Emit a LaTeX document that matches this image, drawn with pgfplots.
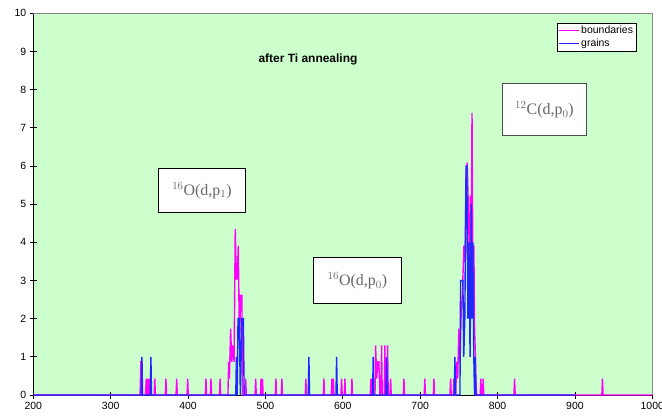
\documentclass[border=0pt]{standalone}
\usepackage{fontspec}
\setmainfont{Liberation Sans}
\newfontfamily\serifA{Liberation Serif}
\usepackage{pgfplots}
\pgfplotsset{compat=1.18}
\definecolor{bgGreen}{RGB}{204,255,204}
\definecolor{bordergray}{RGB}{136,136,136}
\definecolor{annot}{RGB}{102,102,102}
\definecolor{magc}{RGB}{255,0,255}
\definecolor{bluc}{RGB}{30,40,255}
\begin{document}
\begin{tikzpicture}
\path[use as bounding box] (-33.3bp,-22bp) rectangle (628.7bp,395bp);
\begin{axis}[
  scale only axis, width=619bp, height=381.7bp,
  xmin=200, xmax=1000, ymin=0, ymax=10,
  xtick={200,300,...,1000}, ytick={0,1,...,10},
  axis lines*=left,
  axis line style={-,black,line width=0.8bp},
  tick align=center, major tick length=7bp,
  tick style={black,line width=0.8bp},
  axis background/.style={fill=bgGreen},
  ticklabel style={font=\fontsize{10.5}{12}\selectfont},
  /pgf/number format/assume math mode=true,
  /pgf/number format/1000 sep={},
  legend style={at={(0.9748,0.9754)}, anchor=north east,
    fill=white, font=\fontsize{10.5}{12}\selectfont, inner sep=1.5bp, row sep=-0.5bp},
  legend cell align=left,
  legend image code/.code={\draw[mark repeat=2,mark phase=2,#1,line width=1bp] plot coordinates {(0bp,0bp) (10bp,0bp) (20bp,0bp)};},
  clip=false,
]
\addplot[color=magc, line width=1.4bp] coordinates {
(200,0)
(338,0)(339,0.87)(340,0.87)(341,0)
(345,0)(346,0.43)(347,0)(348,0.43)(349,0)(350,0.43)(351,0)
(356.3,0)(357,0.43)(357.8,0)
(370.6,0)(371.4,0.43)(372.2,0)
(384.5,0)(385.3,0.43)(386.1,0)
(398.7,0)(399.5,0.43)(400.3,0)
(422.3,0)(423.1,0.43)(423.9,0)
(428.8,0)(429.6,0.43)(430.4,0)
(440.6,0)(441.4,0.43)(442.2,0)
(451.5,0)(452.5,0.87)(453.5,0.43)(455,1.74)(456.5,0.87)(458,1.30)(459.5,0.87)(461,4.35)(462.3,3.04)(463.5,3.04)(464.9,3.91)(466.5,1.30)(468,2.61)(469.5,2.61)(470.5,0)
(473.7,0)(474.5,0.43)(475.3,0)
(486.6,0)(487.4,0.43)(488.2,0)
(493.5,0)(494.3,0.43)(495.1,0)(496.2,0.43)(497,0)
(512.8,0)(513.6,0.43)(514.4,0)
(520.5,0)(521.3,0.43)(522.1,0)
(551.5,0)(552.3,0.43)(553.1,0)
(574.8,0)(575.6,0.43)(576.4,0)
(585.1,0)(585.9,0.43)(586.9,0)(587.7,0.43)(588.5,0)
(597.6,0)(598.4,0.43)(599.2,0)
(601.9,0)(602.7,0.43)(603.5,0)
(611,0)(611.8,0.43)(612.6,0)
(635.5,0)(636.3,0.43)(637.1,0)(638.3,0.43)(639.1,0)
(641.6,0)(642.4,1.30)(643.8,0.43)(645.2,0.87)(646.6,0.87)(648,0)
(649.3,0)(650.1,1.30)(651,0)
(653.6,0)(654.4,1.30)(655.2,0)
(657.1,0)(657.9,1.30)(658.7,0)
(661,0)(661.8,0.43)(662.6,0)
(678.2,0)(679,0.43)(679.8,0)
(705.2,0)(706,0.43)(706.8,0)
(717,0)(717.8,0.43)(718.6,0)
(738.5,0)(739.3,0.43)(740.1,0)
(742.8,0)(743.6,0.43)(744.4,0)
(746,0)(747,0.87)(748.5,0.43)(750,1.74)(751.5,0.87)(753,2.17)(754.5,2.61)(756.5,3.91)(758,3.48)(759.2,5.65)(760.7,6.09)(762.5,4.78)(763.7,3.48)(765,5.22)(766,3.91)(767,7.39)(768.2,3.04)(769.4,3.91)(770.3,1.74)(771,1.30)(772,0.43)(773,0)
(777.6,0)(778.4,0.43)(779.2,0)(780.6,0)(781.4,0.43)(782.2,0)
(821.2,0)(822,0.43)(822.8,0)
(934.8,0)(935.6,0.43)(936.4,0)
(1000,0)
};
\addlegendentry{boundaries}
\addplot[color=bluc, line width=1.4bp] coordinates {
(200,0)
(339.6,0)(340.4,1)(341.2,0)
(351.2,0)(352,1)(352.8,0)
(461.7,0)(462.5,1)(463.5,0)(464.6,2)(466.2,2)(467.6,0)(469.6,2)(471.5,2)(472.5,0)
(555.4,0)(556.2,1)(557,0)
(591.2,0)(592,1)(592.8,0)
(638.5,0)(639.3,1)(640.1,0)
(655.8,0)(656.6,1)(657.4,0)
(744.1,0)(744.9,1)(745.7,0)
(751.4,0)(752.2,3)(755.2,3)(756.3,1)(757.7,2)(759.3,6)(760.3,6)(761.7,2)(763,4)(764.5,1)(766,5)(767,2)(768,4)(769.3,1)(770.3,0)(771.2,1)(772,0)
(900,0)
};
\addlegendentry{grains}
\draw[bordergray, line width=0.8bp] (rel axis cs:0,1) -- (rel axis cs:1,1) -- (rel axis cs:1,0);
\node[font=\bfseries\fontsize{12}{14}\selectfont] at (axis cs:555,8.78) {after Ti annealing};
\node[draw=black, line width=0.8bp, fill=white, minimum width=87.4bp, minimum height=44bp, inner sep=0pt,
  text=annot, font=\serifA\fontsize{16}{18}\selectfont] at (axis cs:418,5.36) {$^{16}$O(d,p$_1$)};
\node[draw=black, line width=0.8bp, fill=white, minimum width=88.4bp, minimum height=46.7bp, inner sep=0pt,
  text=annot, font=\serifA\fontsize{16}{18}\selectfont] at (axis cs:618.9,3.0) {$^{16}$O(d,p$_0$)};
\node[draw=black!70, line width=0.8bp, fill=white, minimum width=84bp, minimum height=52.4bp, inner sep=0pt,
  text=annot, font=\serifA\fontsize{16}{18}\selectfont] at (axis cs:860.7,7.48) {$^{12}$C(d,p$_0$)};
\end{axis}
\end{tikzpicture}
\end{document}
